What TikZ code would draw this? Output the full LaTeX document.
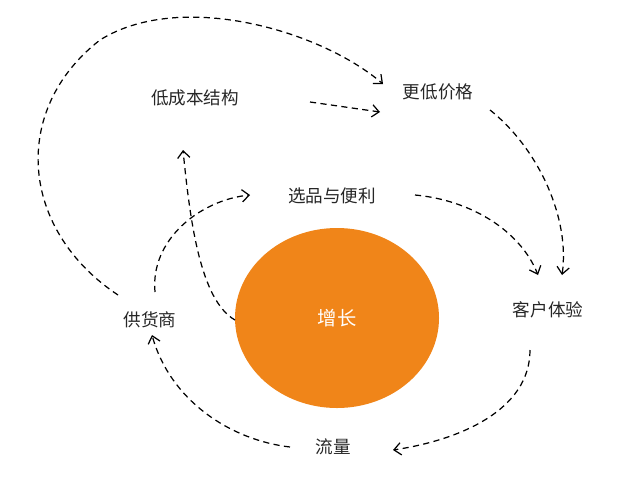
\documentclass[tikz,border=0pt]{standalone}
\usepackage{fontspec}
\setmainfont{Noto Sans CJK SC}
\usetikzlibrary{arrows.meta}
\definecolor{org}{HTML}{F08519}
\begin{document}
\begin{tikzpicture}[x=0.02cm,y=-0.02cm,
  lbl/.style={font=\fontsize{10}{12}\selectfont, text=black!85, inner sep=2pt},
  flow/.style={dashed, dash pattern=on 3.5pt off 2.5pt, line width=0.7pt, -{Straight Barb[length=4pt,width=7pt]}}]
\useasboundingbox (0,0) rectangle (641,501);
\fill[org] (337,318) ellipse [x radius=102, y radius=90];
\node[font=\fontsize{11}{13}\selectfont, text=white] (gt) at (337,318) {增长};
\coordinate (gl) at (235,320);
\node[lbl] (a) at (195,98) {低成本结构};
\node[lbl] (b) at (438,92) {更低价格};
\node[lbl] (c) at (332,196) {选品与便利};
\node[lbl] (d) at (548,310) {客户体验};
\node[lbl] (e) at (150,320) {供货商};
\node[lbl] (f) at (333,447) {流量};
\draw[flow] (118,295) .. controls (20,230) and (10,110) .. (100,40) .. controls (180,-10) and (320,30) .. (383,84);
\draw[flow] (310,102) -- (380,112);
\draw[flow] (490,110) .. controls (540,150) and (570,220) .. (562,275);
\draw[flow] (415,195) .. controls (470,200) and (520,230) .. (538,275);
\draw[flow] (530,350) .. controls (530,410) and (460,440) .. (393,450);
\draw[flow] (290,447) .. controls (230,440) and (170,400) .. (152,335);
\draw[flow] (155,292) .. controls (150,240) and (200,200) .. (250,195);
\draw[flow] (gl) .. controls (200,300) and (190,220) .. (183,150);
\end{tikzpicture}
\end{document}
